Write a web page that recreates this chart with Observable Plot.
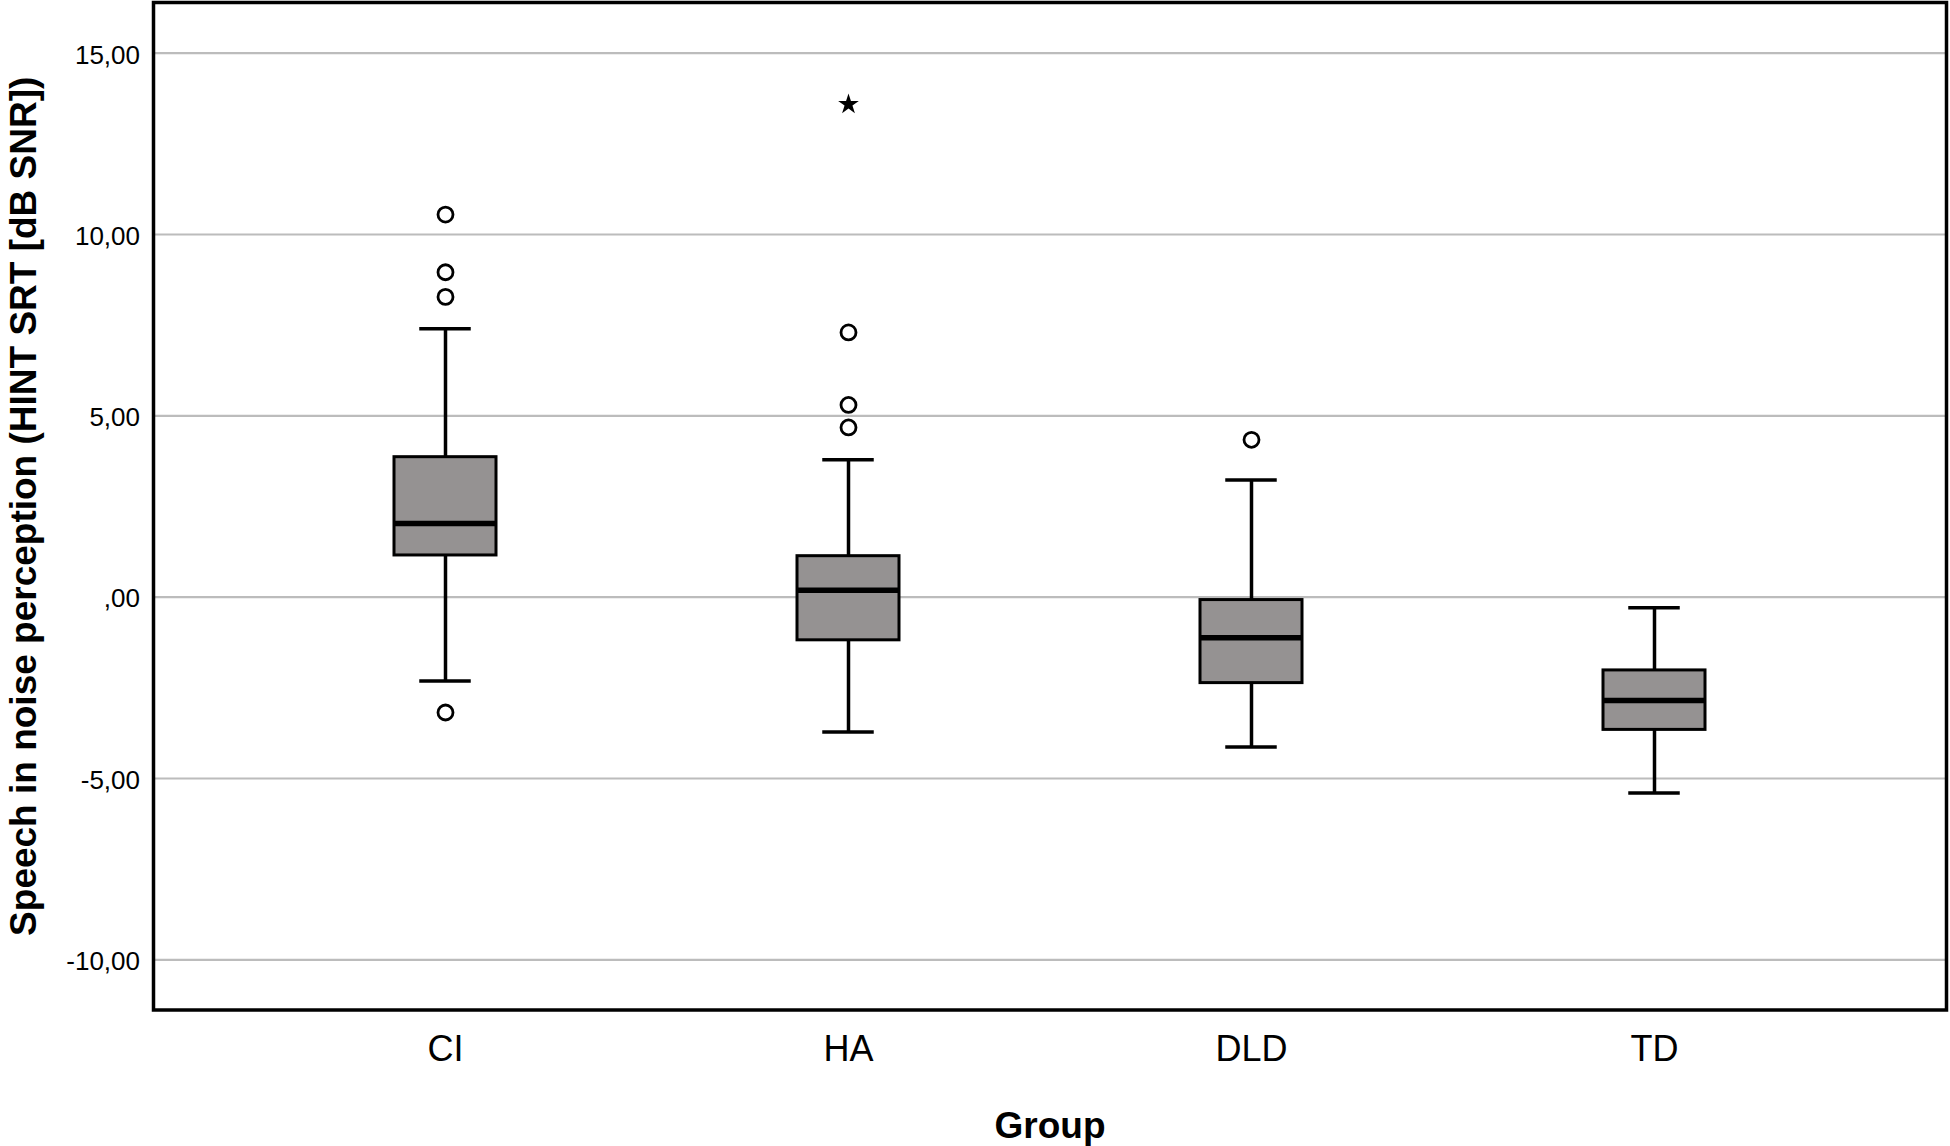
<!DOCTYPE html>
<html><head><meta charset="utf-8">
<script src="https://cdn.jsdelivr.net/npm/d3@7"></script>
<script src="https://cdn.jsdelivr.net/npm/@observablehq/plot@0.6"></script>
<style>html,body{margin:0;padding:0;background:#fff;} svg{display:block}</style>
</head><body><div id="chart"></div>
<script>
const groups = ["CI", "HA", "DLD", "TD"];
const whiskerLow = [-2.31, -3.72, -4.13, -5.40];
const quartile1 = [1.15, -1.19, -2.37, -3.66];
const medians = [2.03, 0.19, -1.12, -2.85];
const quartile3 = [3.86, 1.13, -0.08, -2.02];
const whiskerHigh = [7.40, 3.79, 3.23, -0.29];
const outlierGroups = ["CI", "CI", "CI", "CI", "HA", "HA", "HA", "DLD"];
const outlierValues = [10.55, 8.96, 8.28, -3.18, 7.30, 5.30, 4.68, 4.34];
const extremeGroups = ["HA"];
const extremeValues = [13.59];
const yTicks = [-10, -5, 0, 5, 10, 15];
const yTickLabels = ["-10,00", "-5,00", ",00", "5,00", "10,00", "15,00"];
const xTitle = "Group";
const yTitle = "Speech in noise perception (HINT SRT [dB SNR])";

const boxes = groups.map((g, i) => ({group: g, lo: whiskerLow[i], q1: quartile1[i], med: medians[i], q3: quartile3[i], hi: whiskerHigh[i]}));
const outliers = outlierGroups.map((g, i) => ({group: g, value: outlierValues[i]}));
const extremes = extremeGroups.map((g, i) => ({group: g, value: extremeValues[i]}));

const chart = Plot.plot({
  width: 1950, height: 1146,
  marginLeft: 153, marginRight: 4, marginTop: 2, marginBottom: 136.5,
  style: {fontFamily: "'Liberation Sans', Arial, sans-serif", background: "#fff", color: "#000"},
  x: {type: "band", domain: groups, paddingInner: 0.746, paddingOuter: 0.5948, label: null},
  y: {domain: [-11.384, 16.398], label: null},
  marks: [
    Plot.ruleY(yTicks, {stroke: "#bcbcbc", strokeWidth: 2.2}),
    Plot.axisY({ticks: yTicks, tickFormat: d => yTickLabels[yTicks.indexOf(d)], tickSize: 0, tickPadding: 13.5, fontSize: 26, dy: 2, label: null}),
    Plot.axisX({tickSize: 0, tickPadding: 25, fontSize: 36, label: null}),
    Plot.ruleX(boxes, {x: "group", y1: "q3", y2: "hi", stroke: "#000", strokeWidth: 3.5}),
    Plot.ruleX(boxes, {x: "group", y1: "lo", y2: "q1", stroke: "#000", strokeWidth: 3.5}),
    Plot.tickY(boxes, {x: "group", y: "hi", insetLeft: 25.25, insetRight: 25.25, stroke: "#000", strokeWidth: 3.5}),
    Plot.tickY(boxes, {x: "group", y: "lo", insetLeft: 25.25, insetRight: 25.25, stroke: "#000", strokeWidth: 3.5}),
    Plot.barY(boxes, {x: "group", y1: "q1", y2: "q3", fill: "#959292", stroke: "#000", strokeWidth: 3, inset: 0}),
    Plot.tickY(boxes, {x: "group", y: "med", stroke: "#000", strokeWidth: 5.5}),
    Plot.dot(outliers, {x: "group", y: "value", r: 7.5, stroke: "#000", strokeWidth: 2.8, fill: "#fff"}),
    Plot.dot(extremes, {x: "group", y: "value", symbol: "star", r: 6.5, fill: "#000", stroke: "none"}),
    Plot.frame({stroke: "#000", strokeWidth: 3.5}),
    Plot.text([xTitle], {text: d => d, frameAnchor: "bottom", dy: 115.7, fontSize: 37, fontWeight: "bold", lineAnchor: "middle", textAnchor: "middle"}),
    Plot.text([yTitle], {text: d => d, frameAnchor: "left", dx: -129.8, rotate: -90, fontSize: 37, fontWeight: "bold", lineAnchor: "middle", textAnchor: "middle"})
  ]
});
document.getElementById("chart").appendChild(chart);
</script>
</body></html>
